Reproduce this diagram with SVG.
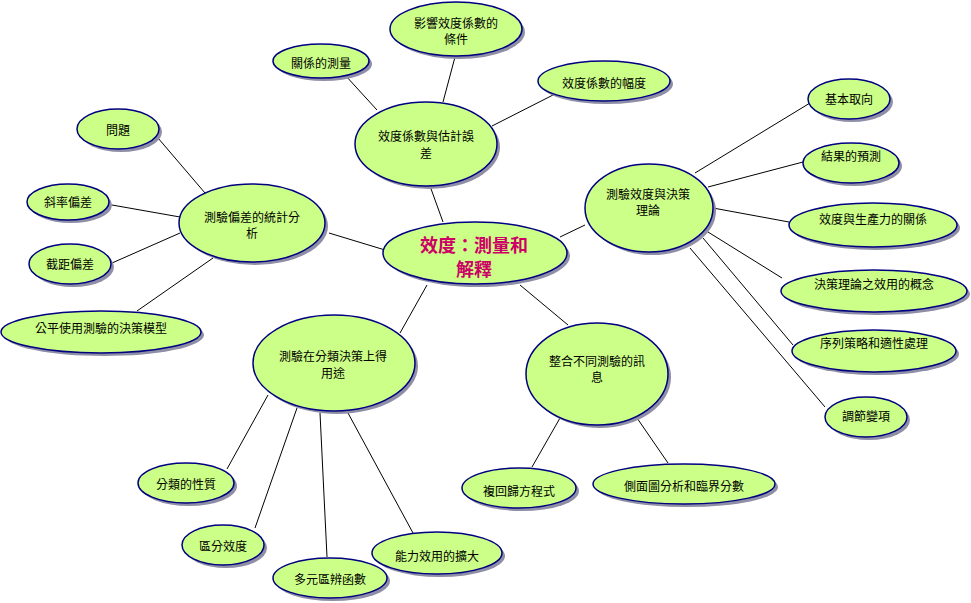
<svg xmlns="http://www.w3.org/2000/svg" width="971" height="603" viewBox="0 0 971 603">
<style>
.sh{fill:#8e8ea6}
.nd{fill:#ccff88;stroke:#000080;stroke-width:1.5}
.t{font-family:"Noto Sans CJK TC","Noto Sans CJK SC",sans-serif;font-size:12px;fill:#000;text-anchor:middle;dominant-baseline:central}
.tc{font-family:"Noto Sans CJK TC","Noto Sans CJK SC",sans-serif;font-size:18px;font-weight:bold;fill:#cc0066;text-anchor:middle;dominant-baseline:central}
.cn line{stroke:#000;stroke-width:1}
</style>
<rect width="971" height="603" fill="#fff"/>
<g id="connectors" class="cn">
<line x1="430" y1="186" x2="443" y2="222"/>
<line x1="455" y1="57" x2="443" y2="102"/>
<line x1="553" y1="95" x2="492" y2="126"/>
<line x1="345" y1="75" x2="377" y2="110"/>
<line x1="329" y1="233" x2="385" y2="250"/>
<line x1="158" y1="138" x2="205" y2="193"/>
<line x1="112" y1="205" x2="180" y2="217"/>
<line x1="112" y1="263" x2="180" y2="233"/>
<line x1="137" y1="311" x2="213" y2="258"/>
<line x1="560" y1="237" x2="585" y2="225"/>
<line x1="695" y1="173" x2="810" y2="103"/>
<line x1="708" y1="187" x2="803" y2="162"/>
<line x1="713" y1="208" x2="789" y2="222"/>
<line x1="708" y1="232" x2="782" y2="278"/>
<line x1="703" y1="238" x2="793" y2="345"/>
<line x1="690" y1="248" x2="825" y2="407"/>
<line x1="400" y1="333" x2="427" y2="285"/>
<line x1="227" y1="469" x2="268" y2="395"/>
<line x1="255" y1="528" x2="297" y2="408"/>
<line x1="327" y1="557" x2="320" y2="413"/>
<line x1="413" y1="533" x2="348" y2="413"/>
<line x1="520" y1="285" x2="568" y2="325"/>
<line x1="532" y1="467" x2="560" y2="418"/>
<line x1="668" y1="463" x2="637" y2="418"/>
</g>
<g id="center">
<ellipse class="sh" cx="478" cy="256" rx="92" ry="31"/>
<ellipse class="nd" cx="475" cy="253" rx="92" ry="31"/>
<text class="tc" x="474" y="244">效度：測量和</text>
<text class="tc" x="474" y="268">解釋</text>
</g>
<g id="n1">
<ellipse class="sh" cx="429" cy="147" rx="71" ry="42"/>
<ellipse class="nd" cx="426" cy="144" rx="71" ry="42"/>
<text class="t" x="426" y="135">效度係數與估計誤</text>
<text class="t" x="426" y="152">差</text>
</g>
<g id="n1a">
<ellipse class="sh" cx="459" cy="32" rx="66" ry="27"/>
<ellipse class="nd" cx="456" cy="29" rx="66" ry="27"/>
<text class="t" x="456" y="22">影響效度係數的</text>
<text class="t" x="456" y="38">條件</text>
</g>
<g id="n1b">
<ellipse class="sh" cx="607" cy="84" rx="66" ry="20"/>
<ellipse class="nd" cx="604" cy="81" rx="66" ry="20"/>
<text class="t" x="604" y="82">效度係數的幅度</text>
</g>
<g id="n1c">
<ellipse class="sh" cx="324" cy="64" rx="48" ry="17"/>
<ellipse class="nd" cx="321" cy="61" rx="48" ry="17"/>
<text class="t" x="321" y="62">關係的測量</text>
</g>
<g id="n2">
<ellipse class="sh" cx="255" cy="226" rx="73" ry="39"/>
<ellipse class="nd" cx="252" cy="223" rx="73" ry="39"/>
<text class="t" x="252" y="216">測驗偏差的統計分</text>
<text class="t" x="252" y="232">析</text>
</g>
<g id="n2a">
<ellipse class="sh" cx="121" cy="132" rx="41" ry="20"/>
<ellipse class="nd" cx="118" cy="129" rx="41" ry="20"/>
<text class="t" x="118" y="129">問題</text>
</g>
<g id="n2b">
<ellipse class="sh" cx="71" cy="205" rx="41" ry="18"/>
<ellipse class="nd" cx="68" cy="202" rx="41" ry="18"/>
<text class="t" x="68" y="201">斜率偏差</text>
</g>
<g id="n2c">
<ellipse class="sh" cx="73" cy="267" rx="41" ry="20"/>
<ellipse class="nd" cx="70" cy="264" rx="41" ry="20"/>
<text class="t" x="70" y="263">截距偏差</text>
</g>
<g id="n2d">
<ellipse class="sh" cx="104" cy="335" rx="100" ry="21"/>
<ellipse class="nd" cx="101" cy="332" rx="100" ry="21"/>
<text class="t" x="101" y="327">公平使用測驗的決策模型</text>
</g>
<g id="n3">
<ellipse class="sh" cx="652" cy="211" rx="64" ry="44"/>
<ellipse class="nd" cx="649" cy="208" rx="64" ry="44"/>
<text class="t" x="648" y="193">測驗效度與決策</text>
<text class="t" x="648" y="209">理論</text>
</g>
<g id="n3a">
<ellipse class="sh" cx="852" cy="102" rx="41" ry="20"/>
<ellipse class="nd" cx="849" cy="99" rx="41" ry="20"/>
<text class="t" x="849" y="98">基本取向</text>
</g>
<g id="n3b">
<ellipse class="sh" cx="854" cy="166" rx="48" ry="20"/>
<ellipse class="nd" cx="851" cy="163" rx="48" ry="20"/>
<text class="t" x="851" y="155">結果的預測</text>
</g>
<g id="n3c">
<ellipse class="sh" cx="876" cy="228" rx="84" ry="22"/>
<ellipse class="nd" cx="873" cy="225" rx="84" ry="22"/>
<text class="t" x="873" y="218">效度與生產力的關係</text>
</g>
<g id="n3d">
<ellipse class="sh" cx="877" cy="294" rx="93" ry="21"/>
<ellipse class="nd" cx="874" cy="291" rx="93" ry="21"/>
<text class="t" x="874" y="283">決策理論之效用的概念</text>
</g>
<g id="n3e">
<ellipse class="sh" cx="877" cy="354" rx="82" ry="21"/>
<ellipse class="nd" cx="874" cy="351" rx="82" ry="21"/>
<text class="t" x="874" y="342">序列策略和適性處理</text>
</g>
<g id="n3f">
<ellipse class="sh" cx="869" cy="420" rx="41" ry="20"/>
<ellipse class="nd" cx="866" cy="417" rx="41" ry="20"/>
<text class="t" x="866" y="415">調節變項</text>
</g>
<g id="n4">
<ellipse class="sh" cx="337" cy="366" rx="81" ry="48"/>
<ellipse class="nd" cx="334" cy="363" rx="81" ry="48"/>
<text class="t" x="333" y="355">測驗在分類決策上得</text>
<text class="t" x="333" y="372">用途</text>
</g>
<g id="n4a">
<ellipse class="sh" cx="189" cy="486" rx="48" ry="20"/>
<ellipse class="nd" cx="186" cy="483" rx="48" ry="20"/>
<text class="t" x="186" y="483">分類的性質</text>
</g>
<g id="n4b">
<ellipse class="sh" cx="226" cy="548" rx="41" ry="20"/>
<ellipse class="nd" cx="223" cy="545" rx="41" ry="20"/>
<text class="t" x="223" y="545">區分效度</text>
</g>
<g id="n4c">
<ellipse class="sh" cx="333" cy="581" rx="57" ry="20"/>
<ellipse class="nd" cx="330" cy="578" rx="57" ry="20"/>
<text class="t" x="330" y="578">多元區辨函數</text>
</g>
<g id="n4d">
<ellipse class="sh" cx="440" cy="556" rx="65" ry="21"/>
<ellipse class="nd" cx="437" cy="553" rx="65" ry="21"/>
<text class="t" x="437" y="555">能力效用的擴大</text>
</g>
<g id="n5">
<ellipse class="sh" cx="600" cy="377" rx="71" ry="51"/>
<ellipse class="nd" cx="597" cy="374" rx="71" ry="51"/>
<text class="t" x="597" y="360">整合不同測驗的訊</text>
<text class="t" x="597" y="376">息</text>
</g>
<g id="n5a">
<ellipse class="sh" cx="522" cy="491" rx="57" ry="20"/>
<ellipse class="nd" cx="519" cy="488" rx="57" ry="20"/>
<text class="t" x="519" y="490">複回歸方程式</text>
</g>
<g id="n5b">
<ellipse class="sh" cx="687" cy="487" rx="91" ry="20"/>
<ellipse class="nd" cx="684" cy="484" rx="91" ry="20"/>
<text class="t" x="684" y="485">側面圖分析和臨界分數</text>
</g>
</svg>
